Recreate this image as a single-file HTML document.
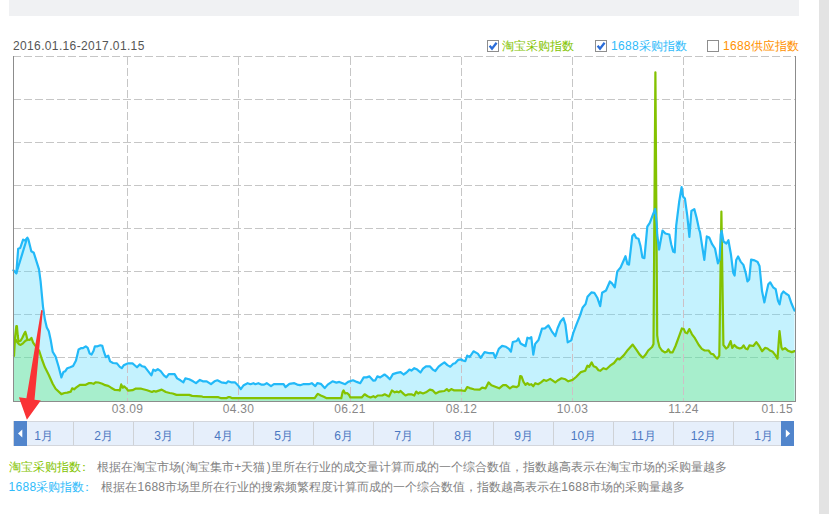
<!DOCTYPE html>
<html><head><meta charset="utf-8"><title>chart</title>
<style>
html,body{margin:0;padding:0;background:#fff;}
body{width:829px;height:514px;position:relative;overflow:hidden;font-family:"Liberation Sans",sans-serif;font-size:12px;}
.topbar{position:absolute;left:9px;top:0;width:790px;height:16px;background:#f0f1f3;}
.side{position:absolute;left:819px;top:0;width:10px;height:514px;background:#e3e3e3;}
.date{position:absolute;left:13px;top:39px;line-height:15px;color:#555;letter-spacing:0.36px;white-space:nowrap;}
.lg{position:absolute;top:39px;line-height:15px;white-space:nowrap;}
.cb{position:absolute;top:40px;width:10px;height:10px;border:1px solid #8e8e8e;background:#fff;}
.cb svg{position:absolute;left:0;top:0;}
svg.chart{position:absolute;left:0;top:0;}
.xl{position:absolute;top:402px;width:60px;text-align:center;color:#888;line-height:15px;letter-spacing:0.3px;}
.bar{position:absolute;left:13px;top:421px;width:780px;height:23px;background:#e6effb;border:1px solid #d3d6dc;border-right:0;overflow:hidden;}
.m{position:absolute;top:0;width:59px;height:23px;border-right:1px solid #cfd2d6;text-align:center;color:#4b78c2;font-size:12px;line-height:28px;}
.btn{position:absolute;top:421px;width:13px;height:25px;background:#5185cc;}
.btn svg{position:absolute;left:0;top:0;}
.desc{position:absolute;left:8.5px;line-height:16px;color:#828282;white-space:nowrap;}
.c{position:relative;left:-3px;}
.d{letter-spacing:0.3px;}
.p1{letter-spacing:1.7px;}
.p2{margin-left:1.5px;}
</style></head><body>
<div class="topbar"></div>
<div class="side"></div>
<div class="date">2016.01.16-2017.01.15</div>

<div class="cb" style="left:487px"><svg width="10" height="10" viewBox="0 0 10 10"><path d="M1.6 4.8 L4 7.6 L8.6 1.8" fill="none" stroke="#2a6cd8" stroke-width="2.3"/></svg></div>
<div class="lg" style="left:502px;color:#83c400">淘宝采购指数</div>
<div class="cb" style="left:595px"><svg width="10" height="10" viewBox="0 0 10 10"><path d="M1.6 4.8 L4 7.6 L8.6 1.8" fill="none" stroke="#2a6cd8" stroke-width="2.3"/></svg></div>
<div class="lg" style="left:611px;color:#30bbfa"><span class="d">1688</span>采购指数</div>
<div class="cb" style="left:707px"></div>
<div class="lg" style="left:723px;color:#ff9100"><span class="d">1688</span>供应指数</div>

<svg class="chart" width="829" height="514" viewBox="0 0 829 514">
<defs><clipPath id="cb"><polygon points="13.4,401 13.4,270.2 16.3,273.3 18.2,248.7 20.2,248 23.1,239.6 25,240.6 27.4,237.7 28.4,239.6 31.3,251.3 33.8,252.8 39,269.4 40.6,281.4 43,306.8 44.9,319.6 46.8,327.4 48.8,331.3 50.7,340 52.7,351.7 55.6,356.6 58.5,366.3 61.4,377.4 63.4,372.1 65.3,371.2 67.3,368.2 70.2,367.3 73.1,365.9 76,360.4 78.6,349.4 80.9,348.2 82.9,348.2 85.8,346.3 87.7,347.8 89.7,353.6 91.6,354.6 93.6,350.7 94.9,346.3 97.5,346.3 100.4,345.3 102.3,345.9 103.9,351.7 105.8,357.1 108.2,355.6 110.1,361.4 113,363 116.9,363.4 119.8,366.9 121.8,368.2 123.7,365.3 127.6,363.4 132.5,363.4 134.4,365 137,367.3 139.7,364.4 142.2,366.3 144.8,366.9 148.1,371.2 151.4,375.4 153.3,369.6 155.3,370.8 157.8,369.2 160.7,371.2 163.9,375.4 166.4,377.4 168.8,374.1 174.6,374.1 177.1,378.4 180.4,380.3 183.4,382.3 185.3,378.4 189.2,379.3 193.1,381.3 196,383.2 199.9,379.9 202.8,381.3 206.7,381.3 211,384.2 214.5,381.3 217.4,380.3 221.3,382.3 226.2,383.2 228.1,381.3 231,382.3 234.9,382.3 237.9,385.2 240.8,389.1 243.7,385.2 247.6,383.2 250.5,384.2 253.4,383.2 255.4,384.2 258.3,383.2 261.2,384.6 264.1,384.6 266.7,383.2 271,386.1 273.9,384.2 283.6,384.2 285.5,387.1 289.4,383.8 294.3,383.2 297.2,384.6 300.1,385.2 303.1,384.2 308.9,384.2 311.8,383.2 315.3,386.1 317.3,383.2 320.8,383.8 324.7,388.1 327.7,384.6 332.5,381.3 336.4,382.6 339.3,381.9 345.2,384.2 348.1,381.9 353,380.3 356.8,381.9 360.2,383.2 363.7,377.4 366.6,377.4 369.5,376.4 373.4,380.7 375.3,380.3 377.3,376.4 380.2,377.4 384.5,374.5 387,376.4 389.9,379.3 392.9,374.1 396.8,372.9 400.6,372.1 403.6,374.5 406.5,372.5 409.4,369.6 411.4,370.6 414.3,368.2 417.2,369.6 420.5,372.5 423,368.6 426,366.3 429.8,366.3 432.8,369.6 435.3,371 438.6,366.7 441.5,364.4 444.4,362.4 447.4,365.1 450.3,366.7 453.2,363.8 455.1,363.2 458.1,359.9 461,359.3 462.9,360.5 465.3,361.2 467.2,355.6 469.7,357 473.5,351.3 477.8,353.6 480.7,357.9 484.6,352.1 489.5,353.2 493.4,353.2 495.3,357.9 498.8,348.8 502.1,345.9 506,346.8 508.9,348.8 510.9,351.7 512.8,342 516.7,341 518.3,338.5 520.6,343.5 525.5,346.2 527.4,337.7 529.4,338.5 531.3,337.1 533.3,354.6 535.2,343.9 538.5,340 542,328.7 544.9,328.3 548.4,325.4 551.8,331.3 555.3,336.1 557.6,328.3 560.5,321.5 563.4,318.2 565.4,324.5 567.7,342.4 571.2,340.4 573.2,333.2 576.1,325.4 580,315.7 582.7,307.4 585.6,304.1 587.5,296.7 591.4,292.4 594.3,292.8 597.3,297.7 600.2,306.1 602.1,292.8 606,290.5 609.9,281.5 611.8,283.1 614.8,287.4 617.3,271.4 620.6,267.5 625.5,256.2 627.4,264 629,264.6 632.3,236 634.2,234.1 636.2,238 638.5,238.7 640.5,246.1 642.4,257.4 644.4,258.2 647.3,226.7 649.8,222.8 652.8,214.9 655.2,209 656.7,223.7 657.2,234.5 659.1,249.6 662.5,230.6 665.4,233.5 669.3,234.5 671.2,244.2 673.2,251.6 674.7,252.4 676.2,225.6 679.1,202.3 681.6,187.1 683,196.4 684.9,198.4 687.3,215.9 689.4,236.9 691.4,211 694.3,209.1 696.6,217.8 699.1,229.5 700,232.1 704.3,259.8 706.8,236.4 709.2,237.4 712.1,244.2 715,248.5 717.9,263.3 719.5,259.8 720.8,234.5 721.6,230.8 723.5,241.5 726.4,243.5 728.4,240.2 730.9,254.2 733.2,272.7 734.6,275.6 736.2,260 738.1,256.5 740.6,261.6 743.4,264.9 745.9,273.6 747.4,281.4 749.2,279.5 751.1,259.6 754.6,260.4 757.6,262 759.5,265.9 762,291.1 764.4,302.4 766.3,293.1 768.3,284.3 770.2,282.4 773.1,287.3 775.7,289.2 778,300.9 779.6,304.4 781.5,294.1 783.5,291.5 785.8,293.5 788.7,295.4 791.6,303.8 794.5,310.6 794.5,401"/></clipPath><clipPath id="cg"><polygon points="14,401 14,356 15.2,336 16.3,326.2 16.9,326.2 17.8,336 18.6,341.4 20.6,340.8 22.5,337.5 24.3,333.5 25.3,331.8 26.3,335 27.3,339.6 29.6,339.9 31.4,337.9 33.1,342.6 34.9,345.2 39.1,350.7 42,359.5 44.9,367.3 48.8,375 52.7,383.8 55.6,388.7 61.4,394.1 64.4,393 67.3,392.6 70.8,391.6 72.2,388.3 74.1,389.3 76,387.7 79.9,384.8 82.9,384.8 85.8,384.8 88.7,383.2 91.6,383.2 93.6,383.8 95.5,382.3 98.4,382.5 102.3,383.8 105.2,385.2 108.2,385.8 111.1,387.7 115,390 118.9,390.2 119.8,390.6 121.2,384.4 122.8,387.7 124.1,386.4 126.7,388.7 128,390.6 132.5,390.2 135.4,388.7 141.3,388.7 147.1,390.2 152,392 153.9,391 155.8,391.6 158.8,390.6 161.7,389.6 165.8,392 169.7,393 172.7,393.5 176.5,394.9 189.2,394.9 192.1,395.9 200.9,396.3 202.8,396.8 218.4,397.2 221.3,398.2 226.2,398.2 228.1,397.2 230.1,397.2 232.4,398.2 314.7,398.2 317.3,394.3 317.9,393.9 320.8,395.5 323.8,396.8 326.7,398.2 341.3,398.2 342.6,392 343.6,390.4 345.2,393.5 347.1,393 349.1,394.9 350.4,397.4 361.7,397.4 364.6,394.3 367.6,396.2 370.5,397.4 373.4,396.2 375.3,397.4 377.7,395.5 382.2,395.5 384.7,394.3 389,396.4 391.9,390.4 394.8,392.3 396.8,391.6 398.7,392.3 400.6,391 403.6,393.9 405.5,395.5 408.4,394.3 411.4,394.3 414.3,395.5 416.2,391.6 418.2,393.5 420.1,392.3 423,393.5 426,392.3 429.8,389.6 432.8,390.4 435.7,393.5 439.6,391.6 444.4,391 446.8,389.1 448.7,391 451.3,389.1 454.2,390.4 461,390.4 464.9,391 467.2,387.1 469.7,388.1 473.9,389.3 479.7,389.6 482.1,387.7 485.6,388.3 488.5,382.4 491.4,385.2 495.3,386.7 499.2,388.3 503.1,385.2 506,385.2 509.9,388.3 512.8,386.3 516.7,387.1 518.7,385.7 520.2,376 521.6,376.6 523.5,381.8 525.5,384.8 527.4,383.2 529.4,384.8 531.3,384.2 533.3,386.3 535.2,383.2 538.1,384.2 541,382.4 544,379.9 546.5,380.9 550.2,378.9 555.3,382.4 557.6,380.5 561.5,378.3 565.4,379.3 568.3,381.3 572.6,379.9 576.1,377 580.9,372.1 585.2,370.8 587.4,365.7 589.1,366.9 591.7,362.4 593.6,366.3 596.1,367.3 598.5,370.2 600.4,370.8 603.3,368.2 606.3,369.2 610.1,365.7 614,363 617.5,358.5 619.5,359.5 623.9,355.1 627.8,349.9 632.7,344.6 636.5,349.9 639.5,354.4 642.8,357.7 645.3,355.1 648.2,350.5 652.1,347 653.5,344 655.4,72.3 657.2,335.3 658,341.1 659.5,347 661.9,350.5 664.8,352.4 666.7,351.8 668.3,349.3 670.2,352.4 672.6,352.4 675.5,346 679.4,335.3 681.9,328.5 683.8,329.1 685.2,332.4 687.2,333.3 689.3,329.1 692,334.3 694.9,338.2 698.8,345 701.8,348.9 704.7,350.5 708.6,350.5 711.1,353.8 713.4,354.4 715.4,357.1 717.3,358.6 719.3,355.7 721.4,211.6 723.4,345 726.1,348.5 728,347 730.6,341.1 732.3,347.9 734.3,345 736.8,347.4 739.7,348.5 741.7,347.9 743.6,345.4 745.5,348.5 747.5,349.3 749.4,345.4 753.3,346 756.3,342.1 759.2,346 762.1,351.2 765,347.9 767.5,348.5 769.9,350.5 772.8,351.8 775.7,355.7 777.5,358.6 779.5,331 781.4,347.2 782.5,349.6 785,348.2 787.9,350.7 791.8,352.1 794.5,351.1 794.5,401"/></clipPath></defs>
<g stroke="#c6c6c6" stroke-width="1" stroke-dasharray="8 3" fill="none" shape-rendering="crispEdges"><line x1="13" y1="56.5" x2="795" y2="56.5"/><line x1="13" y1="99.5" x2="795" y2="99.5"/><line x1="13" y1="142.5" x2="795" y2="142.5"/><line x1="13" y1="185.5" x2="795" y2="185.5"/><line x1="13" y1="228.5" x2="795" y2="228.5"/><line x1="13" y1="271.5" x2="795" y2="271.5"/><line x1="13" y1="314.5" x2="795" y2="314.5"/><line x1="13" y1="357.5" x2="795" y2="357.5"/><line x1="127.5" y1="56.5" x2="127.5" y2="401"/><line x1="238.5" y1="56.5" x2="238.5" y2="401"/><line x1="350.5" y1="56.5" x2="350.5" y2="401"/><line x1="461.5" y1="56.5" x2="461.5" y2="401"/><line x1="572.5" y1="56.5" x2="572.5" y2="401"/><line x1="683.5" y1="56.5" x2="683.5" y2="401"/></g>
<polygon points="13.4,401 13.4,270.2 16.3,273.3 18.2,248.7 20.2,248 23.1,239.6 25,240.6 27.4,237.7 28.4,239.6 31.3,251.3 33.8,252.8 39,269.4 40.6,281.4 43,306.8 44.9,319.6 46.8,327.4 48.8,331.3 50.7,340 52.7,351.7 55.6,356.6 58.5,366.3 61.4,377.4 63.4,372.1 65.3,371.2 67.3,368.2 70.2,367.3 73.1,365.9 76,360.4 78.6,349.4 80.9,348.2 82.9,348.2 85.8,346.3 87.7,347.8 89.7,353.6 91.6,354.6 93.6,350.7 94.9,346.3 97.5,346.3 100.4,345.3 102.3,345.9 103.9,351.7 105.8,357.1 108.2,355.6 110.1,361.4 113,363 116.9,363.4 119.8,366.9 121.8,368.2 123.7,365.3 127.6,363.4 132.5,363.4 134.4,365 137,367.3 139.7,364.4 142.2,366.3 144.8,366.9 148.1,371.2 151.4,375.4 153.3,369.6 155.3,370.8 157.8,369.2 160.7,371.2 163.9,375.4 166.4,377.4 168.8,374.1 174.6,374.1 177.1,378.4 180.4,380.3 183.4,382.3 185.3,378.4 189.2,379.3 193.1,381.3 196,383.2 199.9,379.9 202.8,381.3 206.7,381.3 211,384.2 214.5,381.3 217.4,380.3 221.3,382.3 226.2,383.2 228.1,381.3 231,382.3 234.9,382.3 237.9,385.2 240.8,389.1 243.7,385.2 247.6,383.2 250.5,384.2 253.4,383.2 255.4,384.2 258.3,383.2 261.2,384.6 264.1,384.6 266.7,383.2 271,386.1 273.9,384.2 283.6,384.2 285.5,387.1 289.4,383.8 294.3,383.2 297.2,384.6 300.1,385.2 303.1,384.2 308.9,384.2 311.8,383.2 315.3,386.1 317.3,383.2 320.8,383.8 324.7,388.1 327.7,384.6 332.5,381.3 336.4,382.6 339.3,381.9 345.2,384.2 348.1,381.9 353,380.3 356.8,381.9 360.2,383.2 363.7,377.4 366.6,377.4 369.5,376.4 373.4,380.7 375.3,380.3 377.3,376.4 380.2,377.4 384.5,374.5 387,376.4 389.9,379.3 392.9,374.1 396.8,372.9 400.6,372.1 403.6,374.5 406.5,372.5 409.4,369.6 411.4,370.6 414.3,368.2 417.2,369.6 420.5,372.5 423,368.6 426,366.3 429.8,366.3 432.8,369.6 435.3,371 438.6,366.7 441.5,364.4 444.4,362.4 447.4,365.1 450.3,366.7 453.2,363.8 455.1,363.2 458.1,359.9 461,359.3 462.9,360.5 465.3,361.2 467.2,355.6 469.7,357 473.5,351.3 477.8,353.6 480.7,357.9 484.6,352.1 489.5,353.2 493.4,353.2 495.3,357.9 498.8,348.8 502.1,345.9 506,346.8 508.9,348.8 510.9,351.7 512.8,342 516.7,341 518.3,338.5 520.6,343.5 525.5,346.2 527.4,337.7 529.4,338.5 531.3,337.1 533.3,354.6 535.2,343.9 538.5,340 542,328.7 544.9,328.3 548.4,325.4 551.8,331.3 555.3,336.1 557.6,328.3 560.5,321.5 563.4,318.2 565.4,324.5 567.7,342.4 571.2,340.4 573.2,333.2 576.1,325.4 580,315.7 582.7,307.4 585.6,304.1 587.5,296.7 591.4,292.4 594.3,292.8 597.3,297.7 600.2,306.1 602.1,292.8 606,290.5 609.9,281.5 611.8,283.1 614.8,287.4 617.3,271.4 620.6,267.5 625.5,256.2 627.4,264 629,264.6 632.3,236 634.2,234.1 636.2,238 638.5,238.7 640.5,246.1 642.4,257.4 644.4,258.2 647.3,226.7 649.8,222.8 652.8,214.9 655.2,209 656.7,223.7 657.2,234.5 659.1,249.6 662.5,230.6 665.4,233.5 669.3,234.5 671.2,244.2 673.2,251.6 674.7,252.4 676.2,225.6 679.1,202.3 681.6,187.1 683,196.4 684.9,198.4 687.3,215.9 689.4,236.9 691.4,211 694.3,209.1 696.6,217.8 699.1,229.5 700,232.1 704.3,259.8 706.8,236.4 709.2,237.4 712.1,244.2 715,248.5 717.9,263.3 719.5,259.8 720.8,234.5 721.6,230.8 723.5,241.5 726.4,243.5 728.4,240.2 730.9,254.2 733.2,272.7 734.6,275.6 736.2,260 738.1,256.5 740.6,261.6 743.4,264.9 745.9,273.6 747.4,281.4 749.2,279.5 751.1,259.6 754.6,260.4 757.6,262 759.5,265.9 762,291.1 764.4,302.4 766.3,293.1 768.3,284.3 770.2,282.4 773.1,287.3 775.7,289.2 778,300.9 779.6,304.4 781.5,294.1 783.5,291.5 785.8,293.5 788.7,295.4 791.6,303.8 794.5,310.6 794.5,401" fill="#c4f2fe"/>
<g clip-path="url(#cb)" stroke="#a0ceda" stroke-width="1" stroke-dasharray="8 3" fill="none" shape-rendering="crispEdges"><line x1="13" y1="56.5" x2="795" y2="56.5"/><line x1="13" y1="99.5" x2="795" y2="99.5"/><line x1="13" y1="142.5" x2="795" y2="142.5"/><line x1="13" y1="185.5" x2="795" y2="185.5"/><line x1="13" y1="228.5" x2="795" y2="228.5"/><line x1="13" y1="271.5" x2="795" y2="271.5"/><line x1="13" y1="314.5" x2="795" y2="314.5"/><line x1="13" y1="357.5" x2="795" y2="357.5"/></g>
<polygon points="14,401 14,356 15.2,336 16.3,326.2 16.9,326.2 17.8,336 18.6,341.4 20.6,340.8 22.5,337.5 24.3,333.5 25.3,331.8 26.3,335 27.3,339.6 29.6,339.9 31.4,337.9 33.1,342.6 34.9,345.2 39.1,350.7 42,359.5 44.9,367.3 48.8,375 52.7,383.8 55.6,388.7 61.4,394.1 64.4,393 67.3,392.6 70.8,391.6 72.2,388.3 74.1,389.3 76,387.7 79.9,384.8 82.9,384.8 85.8,384.8 88.7,383.2 91.6,383.2 93.6,383.8 95.5,382.3 98.4,382.5 102.3,383.8 105.2,385.2 108.2,385.8 111.1,387.7 115,390 118.9,390.2 119.8,390.6 121.2,384.4 122.8,387.7 124.1,386.4 126.7,388.7 128,390.6 132.5,390.2 135.4,388.7 141.3,388.7 147.1,390.2 152,392 153.9,391 155.8,391.6 158.8,390.6 161.7,389.6 165.8,392 169.7,393 172.7,393.5 176.5,394.9 189.2,394.9 192.1,395.9 200.9,396.3 202.8,396.8 218.4,397.2 221.3,398.2 226.2,398.2 228.1,397.2 230.1,397.2 232.4,398.2 314.7,398.2 317.3,394.3 317.9,393.9 320.8,395.5 323.8,396.8 326.7,398.2 341.3,398.2 342.6,392 343.6,390.4 345.2,393.5 347.1,393 349.1,394.9 350.4,397.4 361.7,397.4 364.6,394.3 367.6,396.2 370.5,397.4 373.4,396.2 375.3,397.4 377.7,395.5 382.2,395.5 384.7,394.3 389,396.4 391.9,390.4 394.8,392.3 396.8,391.6 398.7,392.3 400.6,391 403.6,393.9 405.5,395.5 408.4,394.3 411.4,394.3 414.3,395.5 416.2,391.6 418.2,393.5 420.1,392.3 423,393.5 426,392.3 429.8,389.6 432.8,390.4 435.7,393.5 439.6,391.6 444.4,391 446.8,389.1 448.7,391 451.3,389.1 454.2,390.4 461,390.4 464.9,391 467.2,387.1 469.7,388.1 473.9,389.3 479.7,389.6 482.1,387.7 485.6,388.3 488.5,382.4 491.4,385.2 495.3,386.7 499.2,388.3 503.1,385.2 506,385.2 509.9,388.3 512.8,386.3 516.7,387.1 518.7,385.7 520.2,376 521.6,376.6 523.5,381.8 525.5,384.8 527.4,383.2 529.4,384.8 531.3,384.2 533.3,386.3 535.2,383.2 538.1,384.2 541,382.4 544,379.9 546.5,380.9 550.2,378.9 555.3,382.4 557.6,380.5 561.5,378.3 565.4,379.3 568.3,381.3 572.6,379.9 576.1,377 580.9,372.1 585.2,370.8 587.4,365.7 589.1,366.9 591.7,362.4 593.6,366.3 596.1,367.3 598.5,370.2 600.4,370.8 603.3,368.2 606.3,369.2 610.1,365.7 614,363 617.5,358.5 619.5,359.5 623.9,355.1 627.8,349.9 632.7,344.6 636.5,349.9 639.5,354.4 642.8,357.7 645.3,355.1 648.2,350.5 652.1,347 653.5,344 655.4,72.3 657.2,335.3 658,341.1 659.5,347 661.9,350.5 664.8,352.4 666.7,351.8 668.3,349.3 670.2,352.4 672.6,352.4 675.5,346 679.4,335.3 681.9,328.5 683.8,329.1 685.2,332.4 687.2,333.3 689.3,329.1 692,334.3 694.9,338.2 698.8,345 701.8,348.9 704.7,350.5 708.6,350.5 711.1,353.8 713.4,354.4 715.4,357.1 717.3,358.6 719.3,355.7 721.4,211.6 723.4,345 726.1,348.5 728,347 730.6,341.1 732.3,347.9 734.3,345 736.8,347.4 739.7,348.5 741.7,347.9 743.6,345.4 745.5,348.5 747.5,349.3 749.4,345.4 753.3,346 756.3,342.1 759.2,346 762.1,351.2 765,347.9 767.5,348.5 769.9,350.5 772.8,351.8 775.7,355.7 777.5,358.6 779.5,331 781.4,347.2 782.5,349.6 785,348.2 787.9,350.7 791.8,352.1 794.5,351.1 794.5,401" fill="#a7eecc"/>
<g clip-path="url(#cg)" stroke="#8cd7b4" stroke-width="1" stroke-dasharray="8 3" fill="none" shape-rendering="crispEdges"><line x1="13" y1="56.5" x2="795" y2="56.5"/><line x1="13" y1="99.5" x2="795" y2="99.5"/><line x1="13" y1="142.5" x2="795" y2="142.5"/><line x1="13" y1="185.5" x2="795" y2="185.5"/><line x1="13" y1="228.5" x2="795" y2="228.5"/><line x1="13" y1="271.5" x2="795" y2="271.5"/><line x1="13" y1="314.5" x2="795" y2="314.5"/><line x1="13" y1="357.5" x2="795" y2="357.5"/></g>
<g clip-path="url(#cb)" stroke="#cdc0c6" stroke-width="1" stroke-dasharray="8 3" fill="none" shape-rendering="crispEdges"><line x1="127.5" y1="56.5" x2="127.5" y2="401"/><line x1="238.5" y1="56.5" x2="238.5" y2="401"/><line x1="350.5" y1="56.5" x2="350.5" y2="401"/><line x1="461.5" y1="56.5" x2="461.5" y2="401"/><line x1="572.5" y1="56.5" x2="572.5" y2="401"/><line x1="683.5" y1="56.5" x2="683.5" y2="401"/></g>
<polyline points="14,356 15.2,336 16.3,326.2 16.9,326.2 17.8,336 18.6,341.4 20.6,340.8 22.5,337.5 24.3,333.5 25.3,331.8 26.3,335 27.3,339.6 29.6,339.9 31.4,337.9 33.1,342.6 34.9,345.2 39.1,350.7 42,359.5 44.9,367.3 48.8,375 52.7,383.8 55.6,388.7 61.4,394.1 64.4,393 67.3,392.6 70.8,391.6 72.2,388.3 74.1,389.3 76,387.7 79.9,384.8 82.9,384.8 85.8,384.8 88.7,383.2 91.6,383.2 93.6,383.8 95.5,382.3 98.4,382.5 102.3,383.8 105.2,385.2 108.2,385.8 111.1,387.7 115,390 118.9,390.2 119.8,390.6 121.2,384.4 122.8,387.7 124.1,386.4 126.7,388.7 128,390.6 132.5,390.2 135.4,388.7 141.3,388.7 147.1,390.2 152,392 153.9,391 155.8,391.6 158.8,390.6 161.7,389.6 165.8,392 169.7,393 172.7,393.5 176.5,394.9 189.2,394.9 192.1,395.9 200.9,396.3 202.8,396.8 218.4,397.2 221.3,398.2 226.2,398.2 228.1,397.2 230.1,397.2 232.4,398.2 314.7,398.2 317.3,394.3 317.9,393.9 320.8,395.5 323.8,396.8 326.7,398.2 341.3,398.2 342.6,392 343.6,390.4 345.2,393.5 347.1,393 349.1,394.9 350.4,397.4 361.7,397.4 364.6,394.3 367.6,396.2 370.5,397.4 373.4,396.2 375.3,397.4 377.7,395.5 382.2,395.5 384.7,394.3 389,396.4 391.9,390.4 394.8,392.3 396.8,391.6 398.7,392.3 400.6,391 403.6,393.9 405.5,395.5 408.4,394.3 411.4,394.3 414.3,395.5 416.2,391.6 418.2,393.5 420.1,392.3 423,393.5 426,392.3 429.8,389.6 432.8,390.4 435.7,393.5 439.6,391.6 444.4,391 446.8,389.1 448.7,391 451.3,389.1 454.2,390.4 461,390.4 464.9,391 467.2,387.1 469.7,388.1 473.9,389.3 479.7,389.6 482.1,387.7 485.6,388.3 488.5,382.4 491.4,385.2 495.3,386.7 499.2,388.3 503.1,385.2 506,385.2 509.9,388.3 512.8,386.3 516.7,387.1 518.7,385.7 520.2,376 521.6,376.6 523.5,381.8 525.5,384.8 527.4,383.2 529.4,384.8 531.3,384.2 533.3,386.3 535.2,383.2 538.1,384.2 541,382.4 544,379.9 546.5,380.9 550.2,378.9 555.3,382.4 557.6,380.5 561.5,378.3 565.4,379.3 568.3,381.3 572.6,379.9 576.1,377 580.9,372.1 585.2,370.8 587.4,365.7 589.1,366.9 591.7,362.4 593.6,366.3 596.1,367.3 598.5,370.2 600.4,370.8 603.3,368.2 606.3,369.2 610.1,365.7 614,363 617.5,358.5 619.5,359.5 623.9,355.1 627.8,349.9 632.7,344.6 636.5,349.9 639.5,354.4 642.8,357.7 645.3,355.1 648.2,350.5 652.1,347 653.5,344 655.4,72.3 657.2,335.3 658,341.1 659.5,347 661.9,350.5 664.8,352.4 666.7,351.8 668.3,349.3 670.2,352.4 672.6,352.4 675.5,346 679.4,335.3 681.9,328.5 683.8,329.1 685.2,332.4 687.2,333.3 689.3,329.1 692,334.3 694.9,338.2 698.8,345 701.8,348.9 704.7,350.5 708.6,350.5 711.1,353.8 713.4,354.4 715.4,357.1 717.3,358.6 719.3,355.7 721.4,211.6 723.4,345 726.1,348.5 728,347 730.6,341.1 732.3,347.9 734.3,345 736.8,347.4 739.7,348.5 741.7,347.9 743.6,345.4 745.5,348.5 747.5,349.3 749.4,345.4 753.3,346 756.3,342.1 759.2,346 762.1,351.2 765,347.9 767.5,348.5 769.9,350.5 772.8,351.8 775.7,355.7 777.5,358.6 779.5,331 781.4,347.2 782.5,349.6 785,348.2 787.9,350.7 791.8,352.1 794.5,351.1" fill="none" stroke="#84c200" stroke-width="2.2" stroke-linejoin="round" stroke-linecap="round"/>
<polyline points="16,340 17.5,342.6 19,344.2 20.6,344.9 23,343.3 25.5,340.8 27.3,340" fill="none" stroke="#84c200" stroke-width="2.2" stroke-linejoin="round" stroke-linecap="round"/>
<polyline points="13.4,270.2 16.3,273.3 18.2,248.7 20.2,248 23.1,239.6 25,240.6 27.4,237.7 28.4,239.6 31.3,251.3 33.8,252.8 39,269.4 40.6,281.4 43,306.8 44.9,319.6 46.8,327.4 48.8,331.3 50.7,340 52.7,351.7 55.6,356.6 58.5,366.3 61.4,377.4 63.4,372.1 65.3,371.2 67.3,368.2 70.2,367.3 73.1,365.9 76,360.4 78.6,349.4 80.9,348.2 82.9,348.2 85.8,346.3 87.7,347.8 89.7,353.6 91.6,354.6 93.6,350.7 94.9,346.3 97.5,346.3 100.4,345.3 102.3,345.9 103.9,351.7 105.8,357.1 108.2,355.6 110.1,361.4 113,363 116.9,363.4 119.8,366.9 121.8,368.2 123.7,365.3 127.6,363.4 132.5,363.4 134.4,365 137,367.3 139.7,364.4 142.2,366.3 144.8,366.9 148.1,371.2 151.4,375.4 153.3,369.6 155.3,370.8 157.8,369.2 160.7,371.2 163.9,375.4 166.4,377.4 168.8,374.1 174.6,374.1 177.1,378.4 180.4,380.3 183.4,382.3 185.3,378.4 189.2,379.3 193.1,381.3 196,383.2 199.9,379.9 202.8,381.3 206.7,381.3 211,384.2 214.5,381.3 217.4,380.3 221.3,382.3 226.2,383.2 228.1,381.3 231,382.3 234.9,382.3 237.9,385.2 240.8,389.1 243.7,385.2 247.6,383.2 250.5,384.2 253.4,383.2 255.4,384.2 258.3,383.2 261.2,384.6 264.1,384.6 266.7,383.2 271,386.1 273.9,384.2 283.6,384.2 285.5,387.1 289.4,383.8 294.3,383.2 297.2,384.6 300.1,385.2 303.1,384.2 308.9,384.2 311.8,383.2 315.3,386.1 317.3,383.2 320.8,383.8 324.7,388.1 327.7,384.6 332.5,381.3 336.4,382.6 339.3,381.9 345.2,384.2 348.1,381.9 353,380.3 356.8,381.9 360.2,383.2 363.7,377.4 366.6,377.4 369.5,376.4 373.4,380.7 375.3,380.3 377.3,376.4 380.2,377.4 384.5,374.5 387,376.4 389.9,379.3 392.9,374.1 396.8,372.9 400.6,372.1 403.6,374.5 406.5,372.5 409.4,369.6 411.4,370.6 414.3,368.2 417.2,369.6 420.5,372.5 423,368.6 426,366.3 429.8,366.3 432.8,369.6 435.3,371 438.6,366.7 441.5,364.4 444.4,362.4 447.4,365.1 450.3,366.7 453.2,363.8 455.1,363.2 458.1,359.9 461,359.3 462.9,360.5 465.3,361.2 467.2,355.6 469.7,357 473.5,351.3 477.8,353.6 480.7,357.9 484.6,352.1 489.5,353.2 493.4,353.2 495.3,357.9 498.8,348.8 502.1,345.9 506,346.8 508.9,348.8 510.9,351.7 512.8,342 516.7,341 518.3,338.5 520.6,343.5 525.5,346.2 527.4,337.7 529.4,338.5 531.3,337.1 533.3,354.6 535.2,343.9 538.5,340 542,328.7 544.9,328.3 548.4,325.4 551.8,331.3 555.3,336.1 557.6,328.3 560.5,321.5 563.4,318.2 565.4,324.5 567.7,342.4 571.2,340.4 573.2,333.2 576.1,325.4 580,315.7 582.7,307.4 585.6,304.1 587.5,296.7 591.4,292.4 594.3,292.8 597.3,297.7 600.2,306.1 602.1,292.8 606,290.5 609.9,281.5 611.8,283.1 614.8,287.4 617.3,271.4 620.6,267.5 625.5,256.2 627.4,264 629,264.6 632.3,236 634.2,234.1 636.2,238 638.5,238.7 640.5,246.1 642.4,257.4 644.4,258.2 647.3,226.7 649.8,222.8 652.8,214.9 655.2,209 656.7,223.7 657.2,234.5 659.1,249.6 662.5,230.6 665.4,233.5 669.3,234.5 671.2,244.2 673.2,251.6 674.7,252.4 676.2,225.6 679.1,202.3 681.6,187.1 683,196.4 684.9,198.4 687.3,215.9 689.4,236.9 691.4,211 694.3,209.1 696.6,217.8 699.1,229.5 700,232.1 704.3,259.8 706.8,236.4 709.2,237.4 712.1,244.2 715,248.5 717.9,263.3 719.5,259.8 720.8,234.5 721.6,230.8 723.5,241.5 726.4,243.5 728.4,240.2 730.9,254.2 733.2,272.7 734.6,275.6 736.2,260 738.1,256.5 740.6,261.6 743.4,264.9 745.9,273.6 747.4,281.4 749.2,279.5 751.1,259.6 754.6,260.4 757.6,262 759.5,265.9 762,291.1 764.4,302.4 766.3,293.1 768.3,284.3 770.2,282.4 773.1,287.3 775.7,289.2 778,300.9 779.6,304.4 781.5,294.1 783.5,291.5 785.8,293.5 788.7,295.4 791.6,303.8 794.5,310.6" fill="none" stroke="#22b9f8" stroke-width="2.2" stroke-linejoin="round" stroke-linecap="round"/>
<polyline points="16.3,273.3 26.8,239" fill="none" stroke="#22b9f8" stroke-width="2.2" stroke-linecap="round"/>
<g stroke="#8c8c8c" stroke-width="1" fill="none" shape-rendering="crispEdges">
<line x1="13.5" y1="56" x2="13.5" y2="402"/><line x1="795.5" y1="56" x2="795.5" y2="402"/><line x1="13" y1="401.5" x2="796" y2="401.5"/>
</g>
<polygon points="41.2,310 42.8,310.4 34.5,399.8 40.8,400.4 26.9,419.8 18.9,397.2 26.4,398.3" fill="#fa3235"/>
</svg>
<div class="xl" style="left:97.5px">03.09</div><div class="xl" style="left:208.5px">04.30</div><div class="xl" style="left:320px">06.21</div><div class="xl" style="left:431.5px">08.12</div><div class="xl" style="left:542.5px">10.03</div><div class="xl" style="left:653.5px">11.24</div><div class="xl" style="left:733px;width:60px;text-align:right">01.15</div>
<div class="bar"><div class="m" style="left:0px">1月</div><div class="m" style="left:60px">2月</div><div class="m" style="left:120px">3月</div><div class="m" style="left:180px">4月</div><div class="m" style="left:240px">5月</div><div class="m" style="left:300px">6月</div><div class="m" style="left:360px">7月</div><div class="m" style="left:420px">8月</div><div class="m" style="left:480px">9月</div><div class="m" style="left:540px">10月</div><div class="m" style="left:600px">11月</div><div class="m" style="left:660px">12月</div><div class="m" style="left:720px">1月</div></div>
<div class="btn" style="left:14px"><svg width="13" height="25" viewBox="0 0 13 25"><path d="M8.3 8.6 L8.3 16.4 L4 12.5 Z" fill="#fff"/></svg></div>
<div class="btn" style="left:781px"><svg width="13" height="25" viewBox="0 0 13 25"><path d="M4.8 8.6 L4.8 16.4 L9.2 12.5 Z" fill="#fff"/></svg></div>

<div class="desc" style="top:459px"><span style="color:#83c400">淘宝采购指数<span class="c">：</span></span><span style="margin-left:0.8px"> </span>根据在淘宝市场<span class="p1">(</span>淘宝集市+天猫<span class="p2">)</span>里所在行业的成交量计算而成的一个综合数值，指数越高表示在淘宝市场的采购量越多</div>
<div class="desc" style="top:479px"><span style="color:#30bbfa"><span class="d">1688</span>采购指数<span class="c">：</span></span><span style="margin-left:1.7px"> </span>根据在<span class="d">1688</span>市场里所在行业的搜索频繁程度计算而成的一个综合数值，指数越高表示在<span class="d">1688</span>市场的采购量越多</div>
</body></html>
